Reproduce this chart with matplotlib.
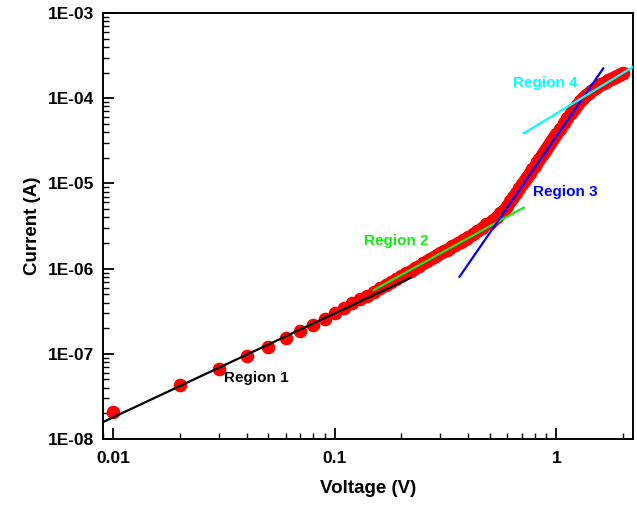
import numpy as np
import matplotlib
matplotlib.use("Agg")
import matplotlib.pyplot as plt
from matplotlib.ticker import LogLocator, FixedLocator, NullFormatter

plt.rcParams["font.family"] = ["Liberation Sans", "DejaVu Sans"]
plt.rcParams["font.weight"] = "bold"

voltage = [
    0.01, 0.02, 0.03, 0.04, 0.05, 0.06, 0.07, 0.08, 0.09, 0.10,
    0.11, 0.12, 0.13, 0.14, 0.15, 0.16, 0.17, 0.18, 0.19, 0.20,
    0.21, 0.22, 0.23, 0.24, 0.25, 0.26, 0.27, 0.28, 0.29, 0.30,
    0.31, 0.32, 0.33, 0.34, 0.35, 0.36, 0.37, 0.38, 0.39, 0.40,
    0.42, 0.44, 0.46, 0.48, 0.50, 0.52, 0.54, 0.56, 0.58, 0.60,
    0.62, 0.64, 0.66, 0.68, 0.70, 0.72, 0.74, 0.76, 0.78, 0.80,
    0.82, 0.84, 0.86, 0.88, 0.90, 0.92, 0.94, 0.96, 0.98, 1.00,
    1.04, 1.08, 1.12, 1.16, 1.20, 1.24, 1.28, 1.32, 1.36, 1.40,
    1.44, 1.48, 1.52, 1.56, 1.60, 1.64, 1.68, 1.72, 1.76, 1.80,
    1.84, 1.88, 1.92, 1.96, 2.00,
]
current = [
    2.07e-8, 4.27e-8, 6.7e-8, 9.3e-8, 1.21e-7, 1.52e-7, 1.86e-7, 2.19e-7, 2.57e-7, 3.02e-7,
    3.42e-7, 3.9e-7, 4.37e-7, 4.82e-7, 5.35e-7, 5.89e-7, 6.45e-7, 7.03e-7, 7.63e-7, 8.23e-7,
    8.85e-7, 9.49e-7, 1.014e-6, 1.081e-6, 1.15e-6, 1.22e-6, 1.29e-6, 1.36e-6, 1.44e-6, 1.51e-6,
    1.59e-6, 1.67e-6, 1.75e-6, 1.83e-6, 1.91e-6, 1.99e-6, 2.07e-6, 2.16e-6, 2.24e-6, 2.33e-6,
    2.55e-6, 2.78e-6, 3.02e-6, 3.3e-6, 3.45e-6, 3.72e-6, 4.05e-6, 4.45e-6, 4.9e-6, 5.4e-6,
    6.15e-6, 6.95e-6, 7.81e-6, 8.75e-6, 9.77e-6, 1.087e-5, 1.205e-5, 1.334e-5, 1.47e-5, 1.62e-5,
    1.78e-5, 1.95e-5, 2.13e-5, 2.33e-5, 2.54e-5, 2.76e-5, 2.99e-5, 3.24e-5, 3.51e-5, 3.79e-5,
    4.39e-5, 5.07e-5, 5.82e-5, 6.65e-5, 7.57e-5, 8.4e-5, 9.3e-5, 1.01e-4, 1.08e-4, 1.15e-4,
    1.22e-4, 1.29e-4, 1.35e-4, 1.41e-4, 1.47e-4, 1.52e-4, 1.57e-4, 1.62e-4, 1.67e-4, 1.71e-4,
    1.76e-4, 1.81e-4, 1.86e-4, 1.91e-4, 1.96e-4,
]

# --- power-law fits per region: I = i_start * (V / v_start) ** slope ---
fit_names   = ["Region 1", "Region 2", "Region 3", "Region 4"]
fit_colors  = ["black", "#11EE11", "#0000FF", "#00FFFF"]
fit_v_start = [0.009, 0.150, 0.366, 0.713]
fit_v_end   = [0.220, 0.713, 1.630, 2.300]
fit_i_start = [1.58e-8, 5.6e-7, 8.03e-7, 3.87e-5]
fit_slope   = [1.22, 1.43, 3.77, 1.58]

# label anchors (left, centre) in data units
label_v = [0.0316, 0.135, 0.788, 0.64]
label_i = [5.2e-8, 2.11e-6, 7.9e-6, 1.51e-4]

fig = plt.figure(figsize=(6.37, 5.08), dpi=100)
ax = fig.add_axes([0.1617, 0.1358, 0.832, 0.8386])

ax.plot(voltage, current, "o", color="red", ms=8.8, mec="red", zorder=2)

for v0, v1, i0, m, c in zip(fit_v_start, fit_v_end, fit_i_start, fit_slope, fit_colors):
    i1 = i0 * (v1 / v0) ** m
    ax.plot([v0, v1], [i0, i1], "-", color=c, lw=1.6, zorder=3)

for name, c, lv, li in zip(fit_names, fit_colors, label_v, label_i):
    ax.text(lv, li, name, color=c, fontsize=11, fontweight="bold",
            ha="left", va="center")

ax.set_xscale("log")
ax.set_yscale("log")
ax.set_xlim(0.009, 2.22)
ax.set_ylim(1e-8, 1e-3)

ax.xaxis.set_major_locator(FixedLocator([0.01, 0.1, 1]))
ax.xaxis.set_major_formatter(plt.FuncFormatter(lambda v, p: f"{v:g}"))
ax.xaxis.set_minor_locator(LogLocator(base=10, subs=np.arange(2, 10)))
ax.xaxis.set_minor_formatter(NullFormatter())
ax.yaxis.set_major_locator(LogLocator(base=10, numticks=10))
ax.yaxis.set_major_formatter(plt.FuncFormatter(lambda v, p: f"1E-{int(round(-np.log10(v))):02d}"))
ax.yaxis.set_minor_locator(LogLocator(base=10, subs=np.arange(2, 10), numticks=20))
ax.yaxis.set_minor_formatter(NullFormatter())

ax.tick_params(which="major", direction="in", length=8, width=1.3, labelsize=12.5)
ax.tick_params(which="minor", direction="in", length=4, width=1.0)
ax.tick_params(axis="x", which="major", pad=8.5)
ax.tick_params(axis="y", which="major", pad=6.5)
for s in ax.spines.values():
    s.set_linewidth(1.4)

ax.set_xlabel("Voltage (V)", fontsize=13.5, fontweight="bold", labelpad=10)
ax.set_ylabel("Current (A)", fontsize=13.5, fontweight="bold", labelpad=5)

fig.savefig("out.png", dpi=100)
